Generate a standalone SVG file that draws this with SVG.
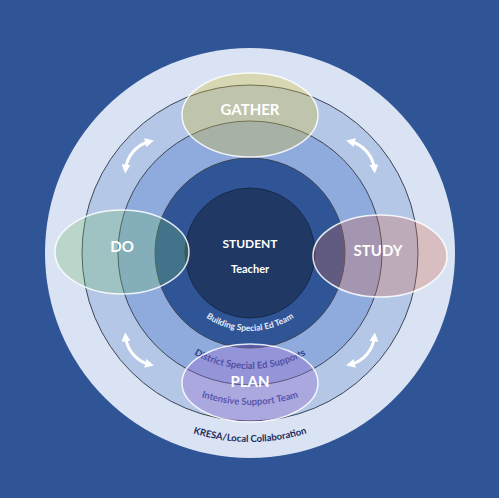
<svg xmlns="http://www.w3.org/2000/svg" width="499" height="498" viewBox="0 0 499 498">
<style>
.ring{stroke:#3d4554;stroke-width:1}
.lbl{font-family:Lato,"Open Sans",sans-serif;font-weight:bold;fill:#ffffff;text-anchor:middle}
.arc{font-family:Lato,"Open Sans",sans-serif;font-weight:bold;text-anchor:middle}
.ell{stroke:#ffffff;stroke-width:1.5;stroke-opacity:0.85}
.arw{fill:none;stroke:#ffffff;stroke-width:3}
</style>
<defs>
<marker id="ah" viewBox="0 0 10 10" refX="5" refY="5" markerWidth="9" markerHeight="9" markerUnits="userSpaceOnUse" orient="auto-start-reverse">
<path d="M0,0 L10,5 L0,10 z" fill="#ffffff"/>
</marker>
<path id="p78" d="M172,253 A78,78 0 0 0 328,253"/>
<path id="p116" d="M134,253 A116,116 0 0 0 366,253"/>
<path id="p152" d="M98,253 A152,152 0 0 0 402,253"/>
<path id="p189" d="M61,253 A189,189 0 0 0 439,253"/>
</defs>
<rect width="499" height="498" fill="#2f5597"/>
<g id="rings">
<circle cx="250" cy="253" r="205" fill="#dae3f3"/>
<circle class="ring" cx="250" cy="253" r="168" fill="#b4c7e7"/>
<circle class="ring" cx="250" cy="253" r="132" fill="#8faadc"/>
<circle class="ring" cx="250" cy="253" r="95" fill="#2f5597"/>
</g>
<g id="student">
<circle cx="250" cy="253" r="65" fill="#1f3864" stroke="#17294a" stroke-width="1"/>
<text class="lbl" x="250" y="248" font-size="12">STUDENT</text>
<text class="lbl" x="250" y="273" font-size="11">Teacher</text>
</g>
<g id="connectors">
<path class="arw" marker-start="url(#ah)" marker-end="url(#ah)" d="M125.6,169.1 A32,32 0 0 1 149.6,141.5"/>
<path class="arw" marker-start="url(#ah)" marker-end="url(#ah)" d="M350.4,141.5 A32,32 0 0 1 374.4,169.1"/>
<path class="arw" marker-start="url(#ah)" marker-end="url(#ah)" d="M149.6,364.5 A32,32 0 0 1 125.6,336.9"/>
<path class="arw" marker-start="url(#ah)" marker-end="url(#ah)" d="M374.4,336.9 A32,32 0 0 1 350.4,364.5"/>
</g>
<g id="ring-labels">
<text class="arc" font-size="8.5" fill="#e8eef9"><textPath href="#p78" startOffset="50%">Building Special Ed Team</textPath></text>
<text class="arc" font-size="9.5" fill="#2e3c8c"><textPath href="#p116" startOffset="50%">District Special Ed Supports</textPath></text>
<text class="arc" font-size="9.5" fill="#34479a"><textPath href="#p152" startOffset="50%">Intensive Support Team</textPath></text>
<text class="arc" font-size="9.5" fill="#1d2b5c"><textPath href="#p189" startOffset="50%">KRESA/Local Collaboration</textPath></text>
</g>
<g id="gather">
<ellipse class="ell" cx="250" cy="115" rx="68" ry="42" fill="#d4c040" fill-opacity="0.35"/>
<text class="lbl" x="250" y="115" font-size="15">GATHER</text>
</g>
<g id="do">
<ellipse class="ell" cx="122" cy="252" rx="67" ry="42" fill="#6fb870" fill-opacity="0.3"/>
<text class="lbl" x="122" y="252" font-size="15">DO</text>
</g>
<g id="study">
<ellipse class="ell" cx="380" cy="256" rx="67" ry="41" fill="#d86a50" fill-opacity="0.3"/>
<text class="lbl" x="378" y="256" font-size="15">STUDY</text>
</g>
<g id="plan">
<ellipse class="ell" cx="250" cy="383" rx="68" ry="39" fill="#9a70d0" fill-opacity="0.35"/>
<text class="lbl" x="250" y="387" font-size="15">PLAN</text>
</g>
</svg>
